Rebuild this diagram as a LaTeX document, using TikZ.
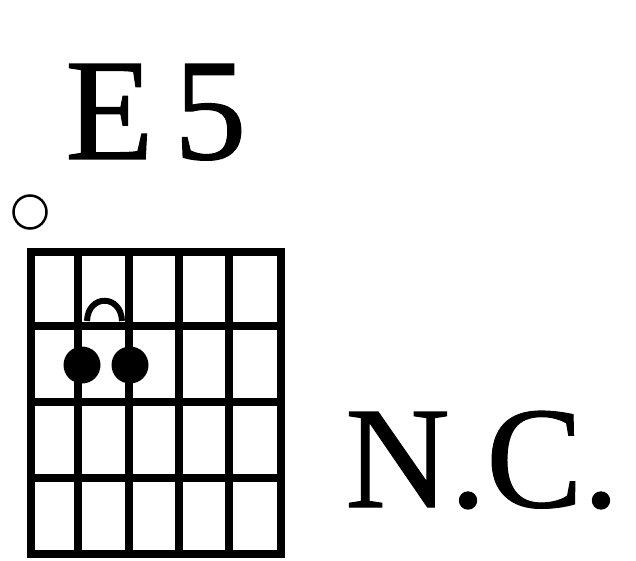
\documentclass[tikz,border=0pt]{standalone}
\usepackage{fontspec}
\setmainfont{Liberation Serif}
\newfontfamily\chordfont[FakeBold=0.8]{Liberation Serif}
\usetikzlibrary{positioning}

\begin{document}
\begin{tikzpicture}[x=1pt, y=-1pt,
    fret/.style={line width=8pt},
    finger/.style={circle, fill=black, inner sep=0pt, minimum size=37pt},
    openstr/.style={circle, draw, line width=2.5pt, inner sep=0pt, minimum size=33pt},
    chordtext/.style={font=\chordfont\fontsize{145}{150}\selectfont, inner sep=0pt}]
    \useasboundingbox (0,0) rectangle (636,561);

    % chord box
    \foreach \x in {31,78,129,179,229,281}
        \draw[fret] (\x,248) -- (\x,558);
    \foreach \y in {252,326,402,478,554}
        \draw[fret] (27,\y) -- (285,\y);

    \node[finger] (dotA) at (82,365) {};
    \node[finger] (dotB) at (130,365) {};
    \draw[line width=6pt] (87,321) .. controls (88,294) and (121,294) .. (122,321);

    \node[openstr] (open) at (30,212) {};

    \node[chordtext, anchor=base west] (name) at (65,159) {E\hspace{0.14em}5};
    \node[chordtext, anchor=base west] (nc) at (345,507) {N.C.};
\end{tikzpicture}
\end{document}
